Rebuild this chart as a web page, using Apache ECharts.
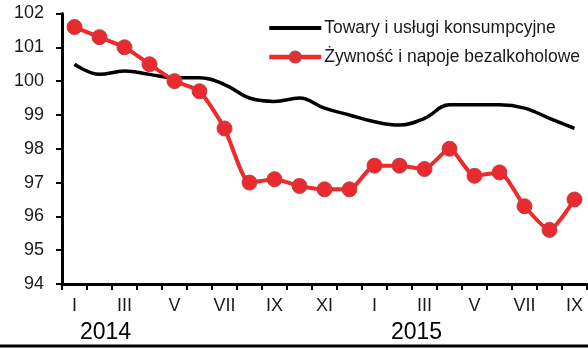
<!DOCTYPE html>
<html>
<head>
<meta charset="utf-8">
<script src="https://cdn.jsdelivr.net/npm/echarts@6/dist/echarts.min.js"></script>
<style>
  html, body { margin: 0; padding: 0; background: #fff; }
  #chart { width: 588px; height: 349px; }
</style>
</head>
<body>
<div id="chart"></div>
<script>
// Months from January 2014 to September 2015 (Roman numerals)
const months = ['I','II','III','IV','V','VI','VII','VIII','IX','X','XI','XII',
                'I','II','III','IV','V','VI','VII','VIII','IX'];
const years = ['2014', '2015'];

// Price indices, same month previous year = 100
const consumerGoods = [100.5, 100.2, 100.3, 100.2, 100.1, 100.1, 99.9, 99.5, 99.4, 99.5, 99.2, 99.0,
                       98.8, 98.7, 98.9, 99.3, 99.3, 99.3, 99.2, 98.9, 98.6];
const foodDrinks = [101.6, 101.3, 101.0, 100.5, 100.0, 99.7, 98.6, 97.0, 97.1, 96.9, 96.8, 96.8,
                    97.5, 97.5, 97.4, 98.0, 97.2, 97.3, 96.3, 95.6, 96.5];

const seriesNames = ['Towary i usługi konsumpcyjne', 'Żywność i napoje bezalkoholowe'];

const FONT = '"Liberation Sans", Arial, sans-serif';
const chart = echarts.init(document.getElementById('chart'), null, { renderer: 'canvas' });

chart.setOption({
  animation: false,
  backgroundColor: '#ffffff',
  grid: { left: 62, right: 1, top: 13.5, bottom: 65, containLabel: false, outerBoundsMode: 'none' },
  legend: {
    orient: 'vertical',
    left: 262,
    top: 14,
    itemWidth: 52,
    itemHeight: 14,
    itemGap: 11,
    data: [
      { name: seriesNames[0], lineStyle: { width: 4, color: '#000' },
        itemStyle: { color: 'rgba(0,0,0,0)', borderWidth: 0 } },
      { name: seriesNames[1], lineStyle: { width: 4.5, color: '#ee2a2a' } }
    ],
    textStyle: { fontFamily: FONT, fontSize: 17.5, color: '#1a1a1a', padding: [0, 0, 0, -2] }
  },
  xAxis: {
    type: 'category',
    data: months,
    boundaryGap: true,
    axisLine: { lineStyle: { color: '#000', width: 3 } },
    axisTick: { show: true, interval: 0, length: 6, lineStyle: { color: '#000', width: 2 } },
    axisLabel: { interval: 1, margin: 13, fontFamily: FONT, fontSize: 18, color: '#1a1a1a' },
    splitLine: { show: false }
  },
  yAxis: {
    type: 'value',
    min: 94,
    max: 102,
    interval: 1,
    axisLine: { show: true, lineStyle: { color: '#000', width: 3 } },
    axisTick: { show: true, length: 6, lineStyle: { color: '#000', width: 2 } },
    axisLabel: { margin: 18, fontFamily: FONT, fontSize: 18, color: '#1a1a1a' },
    splitLine: { show: false }
  },
  series: [
    {
      name: seriesNames[0],
      type: 'line',
      data: consumerGoods,
      smooth: 0.4,
      symbol: 'none',
      lineStyle: { color: '#000', width: 3.5 },
      itemStyle: { color: '#000' },
      z: 2
    },
    {
      name: seriesNames[1],
      type: 'line',
      data: foodDrinks,
      smooth: 0.2,
      symbol: 'circle',
      symbolSize: 15,
      lineStyle: { color: '#ee2a2a', width: 4 },
      itemStyle: { color: '#ea2a2e', borderColor: '#b8454a', borderWidth: 1 },
      z: 3
    }
  ],
  graphic: [
    {
      type: 'text',
      left: 80, top: 321,
      style: { text: years[0], font: '23px ' + FONT, fill: '#000' }
    },
    {
      type: 'text',
      left: 391, top: 321,
      style: { text: years[1], font: '23px ' + FONT, fill: '#000' }
    },
    {
      type: 'rect',
      shape: { x: 0, y: 344.5, width: 588, height: 3 },
      style: { fill: '#000' }
    }
  ]
});
</script>
</body>
</html>
